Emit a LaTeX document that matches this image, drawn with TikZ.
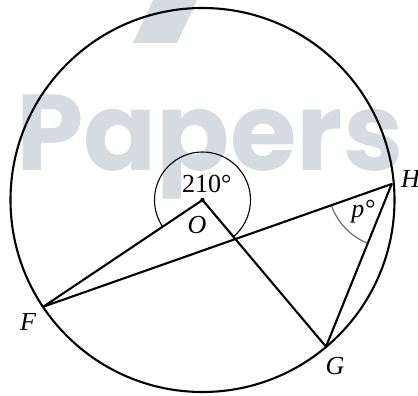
\documentclass[tikz,border=0pt]{standalone}
\usepackage{fontspec}
\setmainfont{Liberation Serif}
\newfontfamily\wmfont{Poppins}
\usetikzlibrary{angles}
\definecolor{wmgray}{RGB}{214,219,224}
\definecolor{arcgray}{RGB}{110,110,110}
\tikzset{
  lbl/.style={inner sep=0pt, font=\fontsize{26}{26}\selectfont\itshape},
  num/.style={inner sep=0pt, font=\fontsize{26}{26}\selectfont},
  mainline/.style={line width=2.1pt, line join=round},
  thinarc/.style={draw, line width=1.1pt, angle radius=48pt},
  parc/.style={draw=arcgray, line width=1.2pt, angle radius=64pt}
}
\begin{document}
\begin{tikzpicture}[x=1pt,y=-1pt]
\useasboundingbox (0,0) rectangle (418,396);
% watermark
\fill[wmgray] (153,0) -- (197,0) -- (177,43) -- (133,43) -- cycle;
\node[anchor=base west, inner sep=0pt, text=wmgray, font=\wmfont\bfseries\fontsize{108}{108}\selectfont] (wm) at (16,170) {Papers};
% points
\coordinate (O) at (202.5,200);
\coordinate (H) at (391.7,184);
\coordinate (F) at (43.3,306.7);
\coordinate (G) at (326,346.7);
% circle
\draw[line width=2.1pt] (O) circle[radius=192];
% angle arcs
\pic[thinarc] {angle = G--O--F};
\pic[parc] {angle = F--H--G};
% lines
\draw[mainline] (G) -- (O) -- (F) -- (H) -- (G);
\fill (O) circle[radius=2.2];
% labels
\node[num] (t210) at (206.7,183.5) {210\textdegree};
\node[lbl] (lO) at (197,225) {O};
\node[lbl] (lF) at (28,322) {F};
\node[lbl] (lG) at (335,366) {G};
\node[lbl, anchor=west] (lH) at (401,178.5) {H};
\node[lbl] (lp) at (363,212) {p\textdegree};
\end{tikzpicture}
\end{document}
